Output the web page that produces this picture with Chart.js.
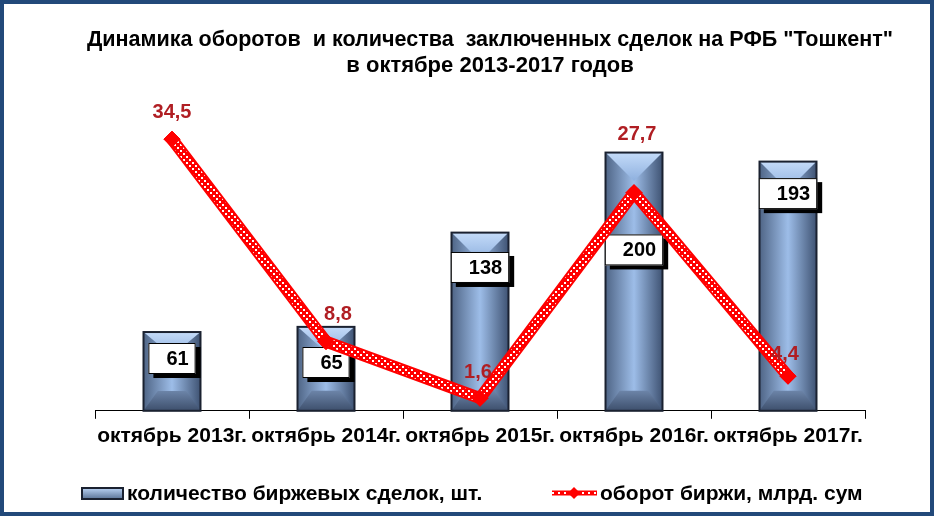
<!DOCTYPE html>
<html lang="ru">
<head>
  <meta charset="UTF-8">
  <title>РФБ Тошкент — октябрь 2013-2017</title>
  <script src="https://cdn.jsdelivr.net/npm/chart.js"></script>
  <style>
    html, body { margin: 0; padding: 0; background: #fff; }
    #chart { display: block; }
  </style>
</head>
<body>
  <canvas id="chart" width="934" height="516"></canvas>

  <script>
    // Data
    const categories = ['октябрь 2013г.', 'октябрь 2014г.', 'октябрь 2015г.', 'октябрь 2016г.', 'октябрь 2017г.'];
    const dealCounts = [61, 65, 138, 200, 193];
    const turnover = [34.5, 8.8, 1.6, 27.7, 4.4];
    const seriesNames = ['количество биржевых сделок, шт.', 'оборот биржи, млрд. сум'];
    const titleLines = ['Динамика оборотов  и количества  заключенных сделок на РФБ "Тошкент"', 'в октябре 2013-2017 годов'];

    const FONT = '"Liberation Sans", Arial, sans-serif';
    Chart.defaults.font.family = FONT;
    Chart.defaults.color = '#000';

    const ctx = document.getElementById('chart').getContext('2d');

    // red line with white dot texture
    function dotPattern() {
      const c = document.createElement('canvas');
      c.width = 6; c.height = 6;
      const p = c.getContext('2d');
      p.fillStyle = '#ff0000';
      p.fillRect(0, 0, 6, 6);
      p.fillStyle = '#ffffff';
      p.fillRect(0, 0, 2, 2);
      p.fillRect(3, 3, 2, 2);
      return ctx.createPattern(c, 'repeat');
    }
    const dots = dotPattern();

    const fmt = v => v.toFixed(1).replace('.', ',');

    function boxBar(c, l, t, w, h) {
      const r = l + w, b = t + h, x = l + w / 2;
      const body = c.createLinearGradient(l, 0, r, 0);
      body.addColorStop(0, '#4f6586');
      body.addColorStop(0.5, '#9dbde8');
      body.addColorStop(1, '#3f5373');
      c.fillStyle = body;
      c.fillRect(l, t, w, h);
      // top face
      const dTop = Math.min(w / 2, h * 0.3);
      const top = c.createLinearGradient(0, t, 0, t + dTop);
      top.addColorStop(0, '#c4dbf9');
      top.addColorStop(1, '#8eb0de');
      c.fillStyle = top;
      c.beginPath();
      c.moveTo(l, t); c.lineTo(r, t); c.lineTo(x, t + dTop); c.closePath();
      c.fill();
      // bottom face
      const dBot = Math.min(20, h * 0.25), ins = w * 0.25;
      const bot = c.createLinearGradient(0, b - dBot, 0, b);
      bot.addColorStop(0, '#6c84a8');
      bot.addColorStop(1, '#3d4f6c');
      c.fillStyle = bot;
      c.beginPath();
      c.moveTo(l, b); c.lineTo(r, b); c.lineTo(r - ins, b - dBot); c.lineTo(l + ins, b - dBot); c.closePath();
      c.fill();
      c.strokeStyle = '#1a2130';
      c.lineWidth = 2;
      c.strokeRect(l, t, w, h);
    }

    const barLook = {
      id: 'barLook',
      afterDatasetDraw(chart, args, opts) {
        const c = chart.ctx;
        if (args.index === 0) {
          const yScale = chart.scales.y;
          c.save();
          args.meta.data.forEach((bar, i) => {
            const p = bar.getProps(['x', 'y', 'base', 'width'], true);
            boxBar(c, p.x - p.width / 2, p.y, p.width, p.base - p.y);
            // value box
            const text = String(dealCounts[i]);
            c.font = 'bold 20px ' + FONT;
            const tw = c.measureText(text).width;
            const bw = tw + 25, bh = 31;
            const cy = yScale.getPixelForValue(opts.labelAt[i]);
            const bx = p.x - bw / 2, by = cy - bh / 2;
            c.fillStyle = '#000';
            c.fillRect(bx + 5, by + 4, bw, bh);
            c.fillStyle = '#fff';
            c.fillRect(bx, by, bw, bh);
            c.strokeStyle = '#000';
            c.lineWidth = 1;
            c.strokeRect(bx + 0.5, by + 0.5, bw - 1, bh - 1);
            c.fillStyle = '#000';
            c.textAlign = 'right';
            c.textBaseline = 'middle';
            c.fillText(text, bx + bw - 7, cy + 1);
          });
          c.restore();
        } else if (args.index === 1) {
          const pts = args.meta.data;
          c.save();
          c.beginPath();
          pts.forEach((pt, i) => i ? c.lineTo(pt.x, pt.y) : c.moveTo(pt.x, pt.y));
          c.strokeStyle = dots;
          c.lineWidth = 8;
          c.lineJoin = 'round';
          c.stroke();
          c.restore();
          pts.forEach(pt => pt.draw(c, chart.chartArea));
        }
      },
      afterDraw(chart, args, opts) {
        const c = chart.ctx;
        c.save();
        // title, a little right of the plot centre as in the original
        c.font = 'bold 22px ' + FONT;
        c.fillStyle = '#000';
        c.textAlign = 'center';
        c.textBaseline = 'middle';
        c.fillText(titleLines[0], 490, 40, 806);
        c.fillText(titleLines[1], 490, 66, 806);

        // turnover labels
        c.font = 'bold 20px ' + FONT;
        c.fillStyle = '#b01e23';
        chart.getDatasetMeta(1).data.forEach((pt, i) => {
          const [dx, dy] = opts.lineLabelOffset[i];
          c.fillText(fmt(turnover[i]), pt.x + dx, pt.y + dy);
        });

        // legend
        const ly = 493;
        const lg = c.createLinearGradient(0, 488, 0, 499);
        lg.addColorStop(0, '#b9d2f4');
        lg.addColorStop(1, '#5a7396');
        c.fillStyle = lg;
        c.fillRect(82, 488, 41, 11);
        c.strokeStyle = '#1a2130';
        c.lineWidth = 2;
        c.strokeRect(82, 488, 41, 11);

        c.beginPath();
        c.moveTo(552, ly); c.lineTo(597, ly);
        c.strokeStyle = '#ff0000';
        c.lineWidth = 5;
        c.stroke();
        c.strokeStyle = dots;
        c.lineWidth = 3;
        c.stroke();
        c.fillStyle = '#ff0000';
        c.beginPath();
        c.moveTo(574, ly - 6); c.lineTo(580, ly); c.lineTo(574, ly + 6); c.lineTo(568, ly); c.closePath();
        c.fill();

        c.font = 'bold 21px ' + FONT;
        c.fillStyle = '#000';
        c.textAlign = 'left';
        c.fillText(chart.data.datasets[0].label, 127, ly + 1);
        c.fillText(chart.data.datasets[1].label, 600, ly + 1);

        // frame
        c.strokeStyle = '#22497a';
        c.lineWidth = 4;
        c.strokeRect(2, 2, chart.width - 4, chart.height - 4);
        c.restore();
      }
    };

    new Chart(ctx, {
      data: {
        labels: categories,
        datasets: [
          {
            type: 'bar',
            label: seriesNames[0],
            data: dealCounts,
            yAxisID: 'y',
            backgroundColor: '#7f9cc6',
            borderColor: '#1a2130',
            borderWidth: 2,
            categoryPercentage: 1,
            barPercentage: 0.37,
            order: 2
          },
          {
            type: 'line',
            label: seriesNames[1],
            data: turnover,
            yAxisID: 'y1',
            borderColor: '#ff0000',
            borderWidth: 12,
            borderJoinStyle: 'round',
            tension: 0,
            pointStyle: 'rectRot',
            pointRadius: 8,
            pointBackgroundColor: '#ff0000',
            pointBorderColor: '#ff0000',
            pointBorderWidth: 1,
            clip: false,
            order: 1
          }
        ]
      },
      options: {
        responsive: false,
        animation: false,
        events: [],
        layout: { padding: { left: 95, right: 69, top: 88, bottom: 62 } },
        plugins: {
          legend: { display: false },
          tooltip: { enabled: false },
          title: { display: false },
          barLook: {
            labelAt: [40.5, 37.4, 111, 124.6, 168.2],
            lineLabelOffset: [[0, -27], [12, -27], [-2, -26], [3, -58], [-3, -22]]
          }
        },
        scales: {
          x: {
            offset: true,
            grid: { offset: true, drawOnChartArea: false, tickLength: 8, color: '#000' },
            border: { color: '#000', width: 1 },
            ticks: {
              autoSkip: false,
              maxRotation: 0,
              padding: 5,
              color: '#000',
              font: { size: 21, weight: 'bold' }
            }
          },
          y: { display: false, min: 0, max: 250 },
          y1: { display: false, min: 0, max: 41 }
        }
      },
      plugins: [barLook]
    });
  </script>
</body>
</html>
